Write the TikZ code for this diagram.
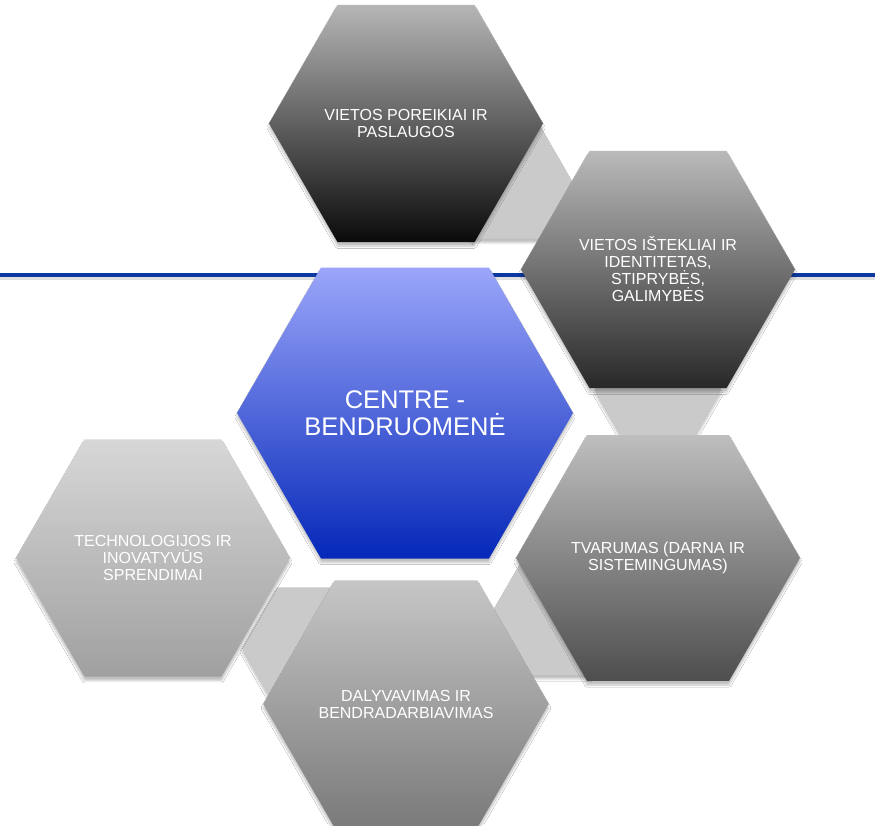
\documentclass[tikz,border=0pt]{standalone}
\usepackage{fontspec}
\setmainfont{Liberation Sans}
\usetikzlibrary{shapes.geometric,shadows.blur}
\definecolor{hAtop}{RGB}{182,182,182}\definecolor{hAbot}{RGB}{10,10,10}
\definecolor{hBtop}{RGB}{186,186,186}\definecolor{hBbot}{RGB}{40,40,40}
\definecolor{hCtop}{RGB}{190,190,190}\definecolor{hCbot}{RGB}{78,78,78}
\definecolor{hDtop}{RGB}{198,198,198}\definecolor{hDbot}{RGB}{122,122,122}
\definecolor{hEtop}{RGB}{215,215,215}\definecolor{hEbot}{RGB}{160,160,160}
\definecolor{ctrtop}{RGB}{155,166,250}\definecolor{ctrbot}{RGB}{5,40,185}
\definecolor{connfill}{RGB}{202,202,202}
\definecolor{bluerule}{RGB}{14,56,160}
\tikzset{
  hexbase/.style={regular polygon, regular polygon sides=6,
    inner sep=0pt, outer sep=0pt, draw=none, align=center, text=white,
    blur shadow={shadow xshift=0pt, shadow yshift=-4pt, shadow blur steps=6, shadow opacity=25}},
  hexsmall/.style={hexbase, minimum size=274pt, font=\fontsize{16}{17}\selectfont},
  hexbig/.style={hexbase, minimum size=336pt, font=\fontsize{25.5}{27}\selectfont},
  connhex/.style={hexbase, fill=connfill},
}
\begin{document}
\begin{tikzpicture}[x=1pt,y=-1pt]
\useasboundingbox[fill=white] (0,0) rectangle (875,825);
% horizontal rule
\coordinate (ruleL) at (0,275);
\coordinate (ruleR) at (875,275);
\draw[gray!40, line width=3pt, opacity=0.6] ([yshift=-3pt]ruleL) -- ([yshift=-3pt]ruleR);
\draw[bluerule, line width=4pt] (ruleL) -- (ruleR);
% connector hexagons (behind)
\node[connhex, minimum size=132pt] (cA) at (506,181.5) {};
\node[connhex, minimum size=126pt] (cB) at (658,390) {};
\node[connhex, minimum size=136pt] (cC) at (558,616) {};
\node[connhex, minimum size=140pt] (cD) at (312,648) {};
% main hexagons
\node[hexsmall, top color=hAtop, bottom color=hAbot] (h1) at (406,123.5) {VIETOS POREIKIAI IR\\PASLAUGOS};
\node[hexsmall, top color=hBtop, bottom color=hBbot] (h2) at (658,269.5) {VIETOS IŠTEKLIAI IR\\IDENTITETAS,\\STIPRYBĖS,\\GALIMYBĖS};
\node[hexbig, top color=ctrtop, bottom color=ctrbot] (ctr) at (405,413) {CENTRE -\\BENDRUOMENĖ};
\node[hexsmall, top color=hEtop, bottom color=hEbot] (h4) at (153,558) {TECHNOLOGIJOS IR\\INOVATYVŪS\\SPRENDIMAI};
\node[hexsmall, top color=hCtop, bottom color=hCbot] (h5) at (658,558) {TVARUMAS (DARNA IR\\SISTEMINGUMAS)};
\node[hexsmall, top color=hDtop, bottom color=hDbot] (h6) at (406,704) {DALYVAVIMAS IR\\BENDRADARBIAVIMAS};
\end{tikzpicture}
\end{document}
